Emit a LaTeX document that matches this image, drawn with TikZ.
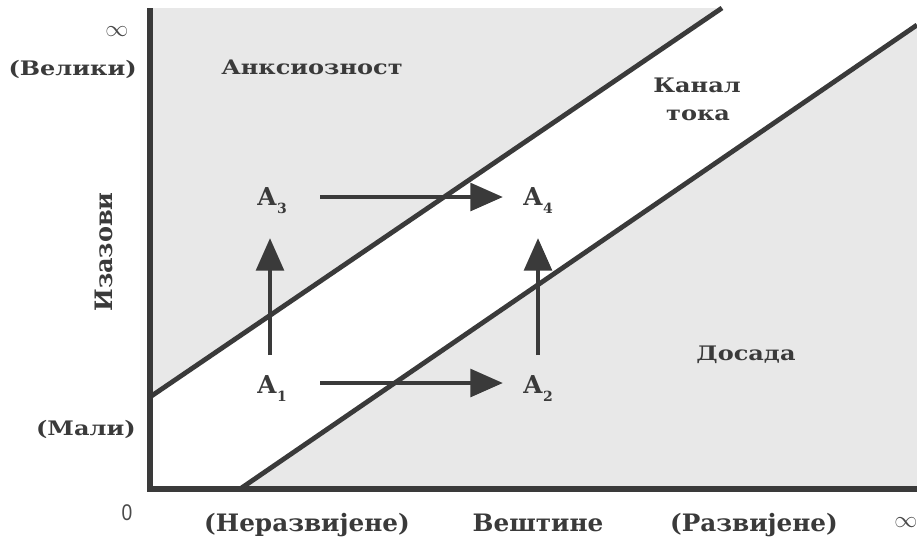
\documentclass[tikz,border=0pt]{standalone}
\usepackage{fontspec}
\setmainfont{DejaVu Serif}
\newfontfamily\numfont{Liberation Sans}
\usetikzlibrary{arrows.meta,calc}
\definecolor{ink}{HTML}{3A3A3A}
\definecolor{bggray}{HTML}{E8E8E8}
\definecolor{soft}{HTML}{4A4A4A}
\newcommand{\sbs}[1]{\kern0.6pt\raisebox{-6pt}{\fontsize{10.5}{11}\selectfont #1}}
\begin{document}
\begin{tikzpicture}[x=0.75pt,y=-0.75pt,
  lbl/.style={font=\bfseries\fontsize{15}{17}\selectfont, text=ink, inner sep=0pt, xscale=1.2},
  axlbl/.style={font=\bfseries\fontsize{18}{20}\selectfont, text=ink, inner sep=0pt},
  alb/.style={font=\bfseries\fontsize{18.5}{20}\selectfont, text=ink, inner sep=0pt},
  thin/.style={text=soft, inner sep=0pt},
  arr/.style={draw=ink, line width=3.7pt, -{Triangle[length=24.5pt,width=20.5pt]}},
  bound/.style={draw=ink, line width=3.6pt},
  axis/.style={draw=ink, line width=4.5pt, line join=miter}]
\useasboundingbox (0,0) rectangle (917,539);
% shaded regions
\fill[bggray] (150,8) -- (722,8) -- (150,397) -- cycle;
\fill[bggray] (240,489) -- (917,25) -- (917,489) -- cycle;
% boundaries
\coordinate (u1) at (150,397);
\coordinate (u2) at (722,8);
\coordinate (l1) at (240,489);
\coordinate (l2) at (917,25);
\draw[bound] (u1) -- (u2);
\draw[bound] (l1) -- (l2);
% axes
\coordinate (top) at (150,8);
\coordinate (orig) at (150,489);
\coordinate (right) at (917,489);
\draw[axis] (top) -- (orig) -- (right);
% region labels
\node[lbl, anchor=base] (anx) at (312,74) {Анксиозност};
\node[lbl, anchor=base] (kan) at (697,92) {Канал};
\node[lbl, anchor=base] (tok) at (698,120) {тока};
\node[lbl, anchor=base] (dos) at (746,360) {Досада};
% A labels
\node[alb, anchor=base west] (a1) at (257,393) {A\sbs{1}};
\node[alb, anchor=base west] (a2) at (523,393) {A\sbs{2}};
\node[alb, anchor=base west] (a3) at (257,205) {A\sbs{3}};
\node[alb, anchor=base west] (a4) at (523,205) {A\sbs{4}};
\draw[arr] ($(a1.base west)+(63,-10)$) -- ($(a2.base west)+(-20,-10)$);
\draw[arr] ($(a3.base west)+(63,-8)$) -- ($(a4.base west)+(-20,-8)$);
\draw[arr] ($(a1.base west)+(13,-38)$) -- ($(a3.base west)+(13,33)$);
\draw[arr] ($(a2.base west)+(15,-38)$) -- ($(a4.base west)+(15,33)$);
% axis labels
\node[lbl, anchor=base east] (vel) at (137,75) {(Велики)};
\node[lbl, anchor=base east] (mal) at (136,435) {(Мали)};
\node[axlbl, rotate=90] (iza) at (104,252) {Изазови};
\node[axlbl, anchor=base, xscale=1.03] (ner) at (307,531) {(Неразвијене)};
\node[axlbl, anchor=base, xscale=1.03] (ves) at (538,531) {Вештине};
\node[axlbl, anchor=base, xscale=1.03] (raz) at (754,531) {(Развијене)};
\node[thin, font=\numfont\fontsize{17}{18}\selectfont, xscale=0.85] (zero) at (127,513) {0};
\node[thin] (inft) at (117,32) {\LARGE$\infty$};
\node[thin] (infr) at (906,523) {\LARGE$\infty$};
\end{tikzpicture}
\end{document}
